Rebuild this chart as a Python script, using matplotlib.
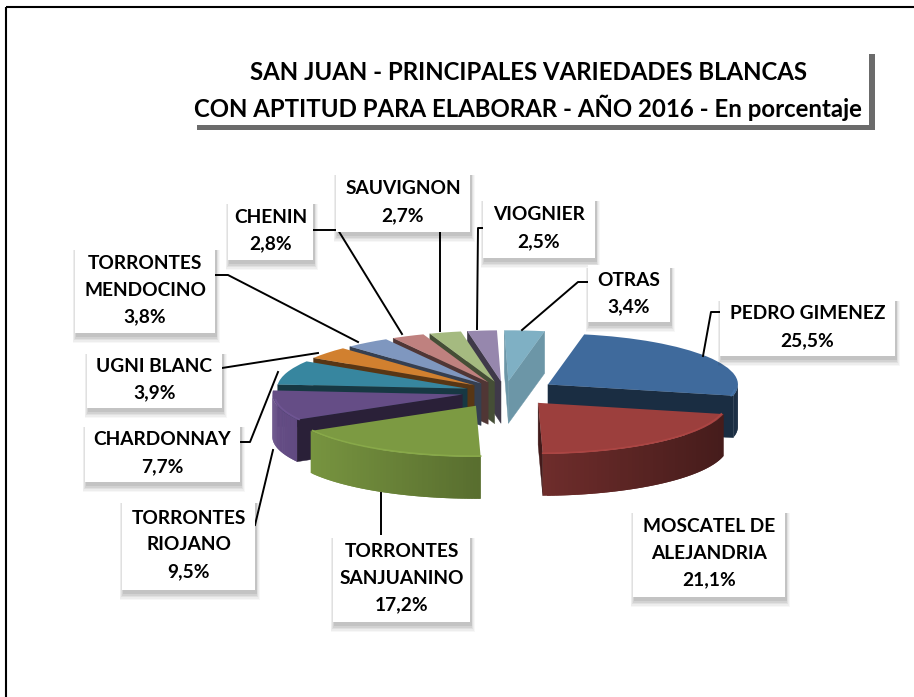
import numpy as np
from matplotlib import pyplot as plt
from matplotlib.colors import to_rgb
from matplotlib.patches import Rectangle

W = 914
H = 697

# Data, clockwise from the top of the pie
names = ["PEDRO GIMENEZ", "MOSCATEL DE\nALEJANDRIA", "TORRONTES\nSANJUANINO", "TORRONTES\nRIOJANO",
         "CHARDONNAY", "UGNI BLANC", "TORRONTES\nMENDOCINO", "CHENIN", "SAUVIGNON", "VIOGNIER", "OTRAS"]
shares = [25.5, 21.1, 17.2, 9.5, 7.7, 3.9, 3.8, 2.8, 2.7, 2.5, 3.4]
share_labels = ["25,5%", "21,1%", "17,2%", "9,5%", "7,7%", "3,9%", "3,8%", "2,8%", "2,7%", "2,5%", "3,4%"]
colours = ["#3F6A9C", "#9C3F3D", "#7C9A42", "#654D86", "#37869F", "#D1802F",
           "#7F97BF", "#BF817F", "#A5BA80", "#9687AD", "#7FB0C4"]
explode = [0.27, 0.275, 0.31, 0.23, 0.21, 0.21, 0.21, 0.21, 0.21, 0.21, 0.21]
title_lines = "SAN JUAN - PRINCIPALES VARIEDADES BLANCAS\nCON APTITUD PARA ELABORAR - AÑO 2016 - En porcentaje"

# label boxes in pixels: x0, y0, x1, y1
boxes = [(720, 298, 895, 356), (633, 510, 785, 597), (333, 535, 470, 622), (122, 500, 255, 590),
         (85, 424, 240, 482), (87, 351, 222, 408), (75, 247, 215, 333), (228, 201, 313, 260),
         (336, 172, 470, 232), (483, 198, 595, 258), (588, 265, 670, 322)]
# leader lines in pixels, one per label (MOSCATEL has none)
leaders = [[(720, 312), (711, 312), (703, 356)], [], [(381, 535), (381, 493)],
           [(255, 525), (273, 450)], [(241, 442), (250, 442), (278, 372)],
           [(222, 368), (318, 353)], [(215, 275), (228, 275), (358, 342)],
           [(313, 230), (338, 230), (402, 334)], [(440, 232), (440, 331)],
           [(483, 228), (478, 228), (477, 329)], [(588, 282), (578, 282), (522, 330)]]

plt.rcParams['font.family'] = ['Lato', 'DejaVu Sans']

fig = plt.figure(figsize=(W/100, H/100), dpi=100)

# Pie geometry in pixels
CX, CY = 505, 392
RX, RY = 190, 51
DEPTH = 42/RY

# Overlay axes in pixel coords for the frame and title
ax = fig.add_axes([0, 0, 1, 1])
ax.set_xlim(0, W)
ax.set_ylim(H, 0)
ax.axis("off")

# Frame, only left and top are in the picture
ax.plot([6, 6], [H, 7], color="black", lw=1.5, solid_capstyle="butt")
ax.plot([6, W], [7, 7], color="black", lw=1.5, solid_capstyle="butt")

# Title box with its hard shadow
ax.add_patch(Rectangle((197, 54), 678, 76, fc="#6B6B6B", ec="none", zorder=2))
ax.add_patch(Rectangle((192, 50), 677, 75, fc="white", ec="none", zorder=3))
ax.text(528, 91, title_lines, ha="center", va="center", fontsize=17.3, fontweight="bold",
        linespacing=1.46, zorder=4)

# Pie axes: one data unit is the pie radius, squashed by the limits
axPie = fig.add_axes([0, 0, 1, 1], zorder=2)
axPie.patch.set_alpha(0)
wedges, _ = axPie.pie(shares, colors=colours, startangle=79, counterclock=False, explode=explode)
axPie.set_aspect("auto")
axPie.set_xlim(-CX/RX, (W-CX)/RX)
axPie.set_ylim((CY-H)/RY, CY/RY)
axPie.axis("off")

midAngles = np.radians([(w.theta1+w.theta2)/2 for w in wedges])
backToFront = np.argsort(-np.sin(midAngles))

for rank, i in enumerate(backToFront):
    w = wedges[i]
    base = np.array(to_rgb(colours[i]))
    z = 10*(rank+1)
    cx, cy = w.center
    w.set_zorder(z+3)
    w.set_edgecolor("none")

    # Flat cut faces, only the ones turned towards the viewer
    cutShade = 0.85 if i == len(shares)-1 else 0.42
    for theta, isStart in [(w.theta1, True), (w.theta2, False)]:
        rad = np.radians(theta)
        normalY = -np.cos(rad) if isStart else np.cos(rad)
        if normalY < 0:
            xe, ye = cx+w.r*np.cos(rad), cy+w.r*np.sin(rad)
            axPie.fill([cx, xe, xe, cx], [cy, ye, ye-DEPTH, cy-DEPTH],
                       color=base*cutShade, lw=0.3, zorder=z+1)

    # Outer wall, darker to the right. Each piece overlaps the next to hide seams
    thetas = np.radians(np.linspace(w.theta1, w.theta2, 60))
    for k in range(len(thetas)-1):
        a = thetas[k]
        b = thetas[min(k+2, len(thetas)-1)]
        if np.sin((a+b)/2) >= 0:
            continue
        shade = 0.72-0.28*np.cos((a+b)/2)
        xa, ya = cx+w.r*np.cos(a), cy+w.r*np.sin(a)
        xb, yb = cx+w.r*np.cos(b), cy+w.r*np.sin(b)
        axPie.fill([xa, xb, xb, xa], [ya, yb, yb-DEPTH, ya-DEPTH],
                   color=np.clip(base*shade, 0, 1), lw=0, zorder=z+2)

    # Light bevel on the front rim of the top face
    front = np.sin(thetas) < -0.1
    if front.sum() > 1:
        rimX = cx+(w.r-0.012)*np.cos(thetas[front])
        rimY = cy+(w.r-0.012)*np.sin(thetas[front])
        axPie.plot(rimX, rimY, color=np.clip(base*1.1, 0, 1), lw=1.2, zorder=z+4)

# Labels sit on top of the pie
axTop = fig.add_axes([0, 0, 1, 1], zorder=3)
axTop.patch.set_alpha(0)
axTop.set_xlim(0, W)
axTop.set_ylim(H, 0)
axTop.axis("off")

for name, share, box, leader in zip(names, share_labels, boxes, leaders):
    x0, y0, x1, y1 = box
    # soft shadow under the box
    for grow, alpha in zip([7, 5.5, 4, 2.5, 1], [0.03, 0.04, 0.05, 0.06, 0.07]):
        axTop.add_patch(Rectangle((x0+1-grow/2, y0+3), x1-x0+grow, y1-y0+grow, fc="black", ec="none",
                                  alpha=alpha, zorder=2))
    axTop.add_patch(Rectangle((x0, y0), x1-x0, y1-y0, fc="white", ec="none", zorder=3))
    axTop.text((x0+x1)/2, (y0+y1)/2, name+"\n"+share, ha="center", va="center", fontsize=13.8,
               fontweight="bold", linespacing=1.68, zorder=4)
    if leader:
        xs, ys = zip(*leader)
        axTop.plot(xs, ys, color="black", lw=1.4, zorder=1)

fig.savefig("out.png", dpi=100)
